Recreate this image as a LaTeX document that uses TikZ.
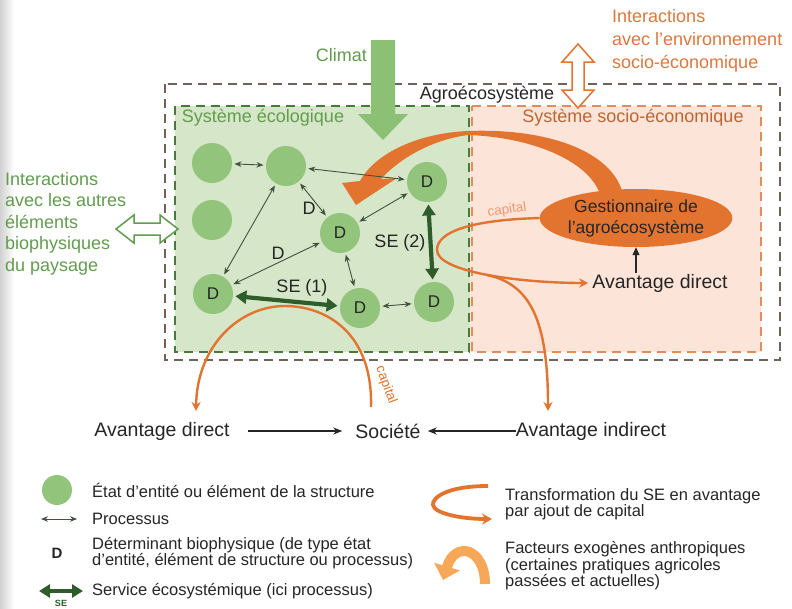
\documentclass[tikz,border=0pt]{standalone}
\usepackage{fontspec}
\setmainfont{Liberation Sans}
\usetikzlibrary{arrows.meta,shapes.geometric,calc}
\definecolor{greenfill}{RGB}{214,230,200}
\definecolor{pinkfill}{RGB}{252,228,216}
\definecolor{circgreen}{RGB}{146,196,124}
\definecolor{darkgreen}{RGB}{46,92,42}
\definecolor{procgray}{RGB}{62,82,62}
\definecolor{textgreen}{RGB}{98,156,78}
\definecolor{orangemain}{RGB}{226,116,48}
\definecolor{orangetext}{RGB}{220,120,62}
\definecolor{lightorange}{RGB}{240,152,112}
\definecolor{outerdash}{RGB}{112,98,88}
\definecolor{greendash}{RGB}{72,122,62}
\definecolor{orangedash}{RGB}{226,142,92}
\definecolor{climatgreen}{RGB}{140,192,116}
\definecolor{facteurorange}{RGB}{246,168,88}
\definecolor{darktext}{RGB}{38,38,38}
\begin{document}
\begin{tikzpicture}[x=1pt,y=-1pt,
  txt/.style={inner sep=0pt, text=darktext, font=\fontsize{18}{21}\selectfont},
  bigtxt/.style={inner sep=0pt, text=darktext, font=\fontsize{19.5}{22}\selectfont},
  legtxt/.style={inner sep=0pt, text=darktext, anchor=west, align=left, font=\fontsize{16.5}{16.5}\selectfont},
  circ/.style={circle, fill=circgreen, minimum size=40pt, inner sep=0pt, outer sep=2.5pt, text=darktext, font=\fontsize{17}{17}\selectfont},
  proc/.style={draw=procgray, line width=0.9pt, {Stealth[length=7pt,width=5.5pt]}-{Stealth[length=7pt,width=5.5pt]}},
  sethick/.style={draw=darkgreen, line width=4.2pt, {Triangle[length=11pt,width=13pt]}-{Triangle[length=11pt,width=13pt]}},
  capline/.style={draw=orangemain, line width=2.4pt},
  caparrow/.style={draw=orangemain, line width=2.4pt, -{Stealth[length=9pt,width=9pt]}},
  blackarrow/.style={draw=darktext, line width=1.5pt, -{Stealth[length=9pt,width=7pt]}},
  dashbox/.style={line width=2pt, dash pattern=on 9pt off 6pt}
]
\useasboundingbox (0,0) rectangle (792,608);
\fill[white] (0,0) rectangle (792,608);
\shade[left color=black!18, right color=white] (0,0) rectangle (14,608);

% boxes
\fill[greenfill] (175,106) rectangle (470,352);
\fill[pinkfill] (470,106) rectangle (761,352);
\draw[dashbox, draw=greendash] (175,106) rectangle (469,352);
\draw[dashbox, draw=orangedash] (472,106) -- (761,106) -- (761,352) -- (472,352) -- cycle;
\draw[dashbox, draw=outerdash] (165,84) rectangle (780,360);

\node[txt] (agro) at (487,95) {Agroécosystème};
\node[txt, text=textgreen] (syseco) at (263,118) {Système écologique};
\node[txt, text=orangetext!85!black] (syssoc) at (633,118) {Système socio-économique};

% Climat
\node[txt, text=textgreen, anchor=east] (climat) at (367,55) {Climat};
\fill[climatgreen] (371,40) -- (395,40) -- (395,114) -- (408,114) -- (383,140) -- (358,114) -- (371,114) -- cycle;

% socio-economic interactions
\node[txt, text=orangetext, anchor=north west, align=left, font=\fontsize{18}{23}\selectfont] (inter) at (612,9) {Interactions\\avec l’environnement\\socio-économique};
\draw[orangemain, line width=1.5pt, fill=white] (578,44) -- (594,62) -- (584,62) -- (584,90) -- (594,90) -- (578,108) -- (562,90) -- (572,90) -- (572,62) -- (562,62) -- cycle;

% landscape interactions
\node[txt, text=textgreen, anchor=north west, align=left, font=\fontsize{18}{21.5}\selectfont] (paysage) at (5,172) {Interactions\\avec les autres\\éléments\\biophysiques\\du paysage};
\draw[textgreen, line width=1.5pt, fill=white] (116,229) -- (134,215) -- (134,223) -- (160,223) -- (160,215) -- (178,229) -- (160,243) -- (160,235) -- (134,235) -- (134,243) -- cycle;

% bottom arc capital -> avantage direct (society)
\coordinate (arcstart) at (371,407);
\coordinate (arcend) at (196,411);
\draw[caparrow] (arcstart) .. controls (373,332) and (325,306) .. (285,306) .. controls (240,306) and (197,345) .. (arcend);

% big tapered swoosh from manager
\fill[orangemain] (623,194) .. controls (612,150) and (545,128) .. (468,131)
  .. controls (420,133) and (376,152) .. (360,181)
  -- (342,183) -- (356,205) -- (397,178) -- (381,179)
  .. controls (398,160) and (430,140) .. (468,135)
  .. controls (530,137) and (588,160) .. (600,194) -- cycle;

% ecological nodes
\node[circ] (e1) at (212,163) {};
\node[circ] (e2) at (286,166) {};
\node[circ] (e3) at (212,220) {};
\node[circ] (d1) at (427,182) {D};
\node[circ] (d2) at (340,233) {D};
\node[circ] (d3) at (213,294) {D};
\node[circ] (d4) at (360,308) {D};
\node[circ] (d5) at (434,302) {D};

\draw[proc] (e1) -- (e2);
\draw[proc] (e2) -- (d1);
\draw[proc] (e2) -- (d2);
\draw[proc] (e2) -- (d3);
\draw[proc] (d2) -- (d3);
\draw[proc] (d1) -- (d2);
\draw[proc] (d2) -- (d4);
\draw[proc] (d4) -- (d5);
\draw[sethick] (d3) -- (d4);
\draw[sethick] (d1) -- (d5);

\node[txt] (dl1) at (309,208) {D};
\node[txt] (dl2) at (278,253) {D};
\node[txt] (se1) at (302,288) {SE (1)};
\node[txt] (se2) at (400,243) {SE (2)};

% manager and capital curves
\node[ellipse, fill=orangemain, minimum width=182pt, minimum height=58pt, inner sep=0pt, align=center, text=black!85, font=\fontsize{17.5}{21}\selectfont] (gest) at (636,218) {Gestionnaire de\\l’agroécosystème};
\node[bigtxt] (avd2) at (660,283) {Avantage direct};
\coordinate (smallarr) at (636,273);
\draw[draw=darktext, line width=1.2pt, -{Triangle[length=8pt,width=7pt]}] (smallarr) -- (gest.south);
\draw[capline] (gest.west) .. controls (470,220) and (437,232) .. (437,250) coordinate (uturn);
\draw[caparrow] (uturn) .. controls (437,272) and (520,283) .. ($(avd2.west)+(-4,0)$);
\coordinate (branch) at (487,275);
\node[inner sep=0pt, text=lightorange, rotate=8, font=\fontsize{13.5}{14}\selectfont] (cap1) at (507,210) {capital};
\node[inner sep=0pt, text=orangemain, rotate=-70, font=\fontsize{13.5}{14}\selectfont] (cap2) at (386,385) {capital};

% bottom row
\node[bigtxt] (avd) at (162,431) {Avantage direct};
\node[bigtxt] (soc) at (388,431) {Société};
\node[bigtxt] (avi) at (591,431) {Avantage indirect};
\coordinate (aitop) at (548,411);
\draw[caparrow] (branch) .. controls (530,284) and (548,320) .. (aitop);
\draw[blackarrow] ($(avd.east)+(18,0)$) -- ($(soc.west)+(-13,0)$);
\draw[blackarrow] (avi.west) -- ($(soc.east)+(7,0)$);

% legend left
\node[circle, fill=circgreen, minimum size=30pt, inner sep=0pt] (lc) at (57,490) {};
\node[legtxt] (lt1) at (92,490) {État d’entité ou élément de la structure};
\coordinate (lpa) at (41,519);
\coordinate (lpb) at (77,519);
\draw[proc] (lpa) -- (lpb);
\node[legtxt] (lt2) at (92,519) {Processus};
\node[inner sep=0pt, text=darktext, font=\fontsize{15}{15}\selectfont\bfseries] (ld) at (57,553) {D};
\node[legtxt] (lt3) at (92,553) {Déterminant biophysique (de type état\\d’entité, élément de structure ou processus)};
\coordinate (lsa) at (39,591);
\coordinate (lsb) at (83,591);
\draw[sethick, line width=4pt] (lsa) -- (lsb);
\node[inner sep=0pt, text=darkgreen, font=\fontsize{9}{9}\selectfont\bfseries] (lse) at (61,603) {SE};
\node[legtxt] (lt4) at (92,591) {Service écosystémique (ici processus)};

% legend right
\coordinate (lca) at (488,486);
\coordinate (lcb) at (492,519);
\draw[orangemain, line width=3.8pt, -{Stealth[length=10pt,width=11pt]}] (lca) .. controls (446,486) and (432,498) .. (433,505) .. controls (434,513) and (460,519) .. (lcb);
\node[legtxt] (lt5) at (505,504) {Transformation du SE en avantage\\par ajout de capital};
\coordinate (lfa) at (485,584);
\coordinate (lfb) at (443,580);
\draw[facteurorange, line width=10pt, -{Triangle[length=14pt,width=26pt]}] (lfa) .. controls (485,548) and (455,540) .. (lfb);
\node[legtxt] (lt6) at (505,566) {Facteurs exogènes anthropiques\\(certaines pratiques agricoles\\passées et actuelles)};
\end{tikzpicture}
\end{document}
